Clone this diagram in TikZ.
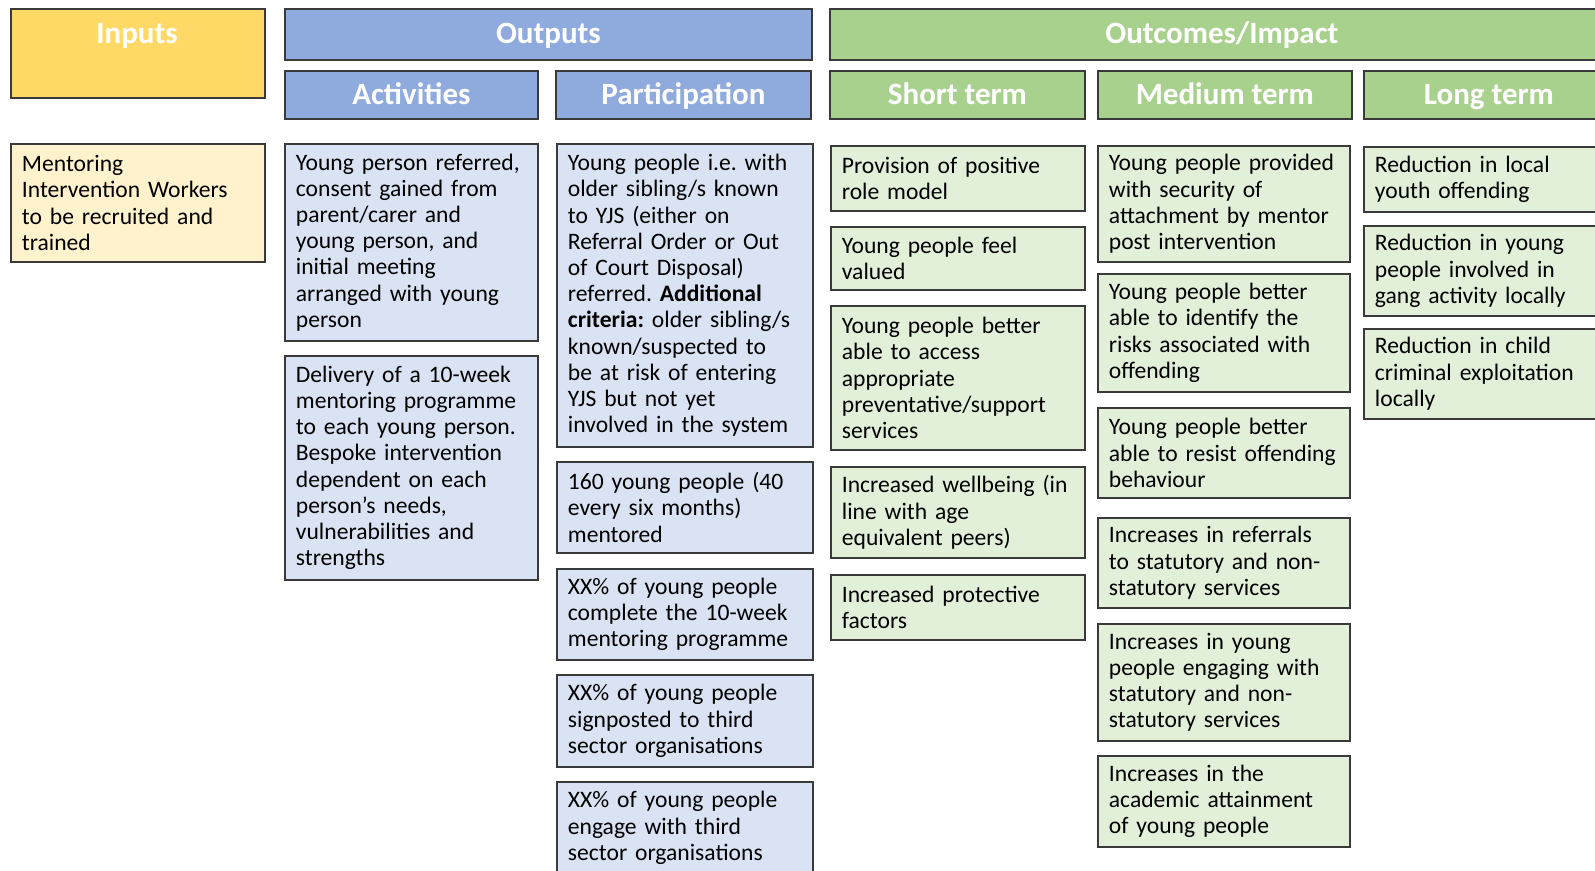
\documentclass[tikz,border=0pt]{standalone}
\usepackage{fontspec}
\setmainfont{Carlito}
\frenchspacing
\definecolor{edge}{HTML}{3A3A3A}
\definecolor{inHead}{HTML}{FFD966}
\definecolor{inBody}{HTML}{FFF2CC}
\definecolor{outHead}{HTML}{8FAADC}
\definecolor{outBody}{HTML}{DAE3F3}
\definecolor{ocHead}{HTML}{A9D18E}
\definecolor{ocBody}{HTML}{E2F0D9}
\tikzset{
  hbox/.style={draw=edge, line width=1.8pt, anchor=north west, inner sep=0pt},
  htext/.style={text=white, font=\fontsize{31}{34}\selectfont\bfseries,
    text height=25pt, text depth=6pt, inner sep=0pt},
  body/.style={draw=edge, line width=1.8pt, anchor=north west, inner xsep=11pt,
    inner ysep=1pt, align=left, font=\fontsize{23.6}{26.2}\selectfont},
  inB/.style={body, fill=inBody, text width=232pt},
  actB/.style={body, fill=outBody, text width=231pt},
  parB/.style={body, fill=outBody, text width=234pt},
  shB/.style={body, fill=ocBody, text width=232pt},
  meB/.style={body, fill=ocBody, text width=230pt},
  loB/.style={body, fill=ocBody, text width=228pt},
}
\begin{document}
\begin{tikzpicture}[x=1pt, y=-1pt]
\clip (0,0) rectangle (1595,870);
\fill[white] (0,0) rectangle (1595,870);

% column headers
\node[hbox, fill=inHead, minimum width=254pt, minimum height=89pt] (inputs) at (10,8) {};
\node[htext] (inputsT) at (137,34) {Inputs};
\node[hbox, fill=outHead, minimum width=527pt, minimum height=51pt] (outputs) at (284,8) {};
\node[htext] (outputsT) at (outputs.center) {Outputs};
\node[hbox, fill=ocHead, minimum width=784pt, minimum height=51pt] (outcomes) at (829,8) {};
\node[htext] (outcomesT) at (outcomes.center) {Outcomes/Impact};

\node[hbox, fill=outHead, minimum width=253pt, minimum height=48pt] (act) at (284,70) {};
\node[htext] (actT) at (act.center) {Activities};
\node[hbox, fill=outHead, minimum width=255pt, minimum height=48pt] (par) at (555,70) {};
\node[htext] (parT) at (par.center) {Participation};
\node[hbox, fill=ocHead, minimum width=255pt, minimum height=48pt] (sht) at (829,70) {};
\node[htext] (shtT) at (sht.center) {Short term};
\node[hbox, fill=ocHead, minimum width=254pt, minimum height=48pt] (med) at (1097,70) {};
\node[htext] (medT) at (med.center) {Medium term};
\node[hbox, fill=ocHead, minimum width=250pt, minimum height=48pt] (lng) at (1363,70) {};
\node[htext] (lngT) at (lng.center) {Long term};

% inputs
\node[inB, minimum height=118pt] (in1) at (10,143)
  {Mentoring\\Intervention Workers\\to be recruited and\\trained};

% activities
\node[actB, minimum height=197pt] (a1) at (284,143)
  {Young person referred,\\consent gained from\\parent/carer and\\young person, and\\initial meeting\\arranged with young\\person};
\node[actB, minimum height=224pt] (a2) at (284,355)
  {Delivery of a 10-week\\mentoring programme\\to each young person.\\Bespoke intervention\\dependent on each\\person’s needs,\\vulnerabilities and\\strengths};

% participation
\node[parB, minimum height=303pt] (p1) at (556,143)
  {Young people i.e. with\\older sibling/s known\\to YJS (either on\\Referral Order or Out\\of Court Disposal)\\referred. \textbf{Additional}\\\textbf{criteria:} older sibling/s\\known/suspected to\\be at risk of entering\\YJS but not yet\\involved in the system};
\node[parB, minimum height=91pt] (p2) at (556,461)
  {160 young people (40\\every six months)\\mentored};
\node[parB, minimum height=91pt] (p3) at (556,568)
  {XX\% of young people\\complete the 10-week\\mentoring programme};
\node[parB, minimum height=92pt] (p4) at (556,674)
  {XX\% of young people\\signposted to third\\sector organisations};
\node[parB, minimum height=92pt] (p5) at (556,781)
  {XX\% of young people\\engage with third\\sector organisations};

% short term
\node[shB, minimum height=65pt] (s1) at (830,145)
  {Provision of positive\\role model};
\node[shB, minimum height=63pt] (s2) at (830,226)
  {Young people feel\\valued};
\node[shB, minimum height=144pt] (s3) at (830,305)
  {Young people better\\able to access\\appropriate\\preventative/support\\services};
\node[shB, minimum height=91pt] (s4) at (830,466)
  {Increased wellbeing (in\\line with age\\equivalent peers)};
\node[shB, minimum height=65pt] (s5) at (830,574)
  {Increased protective\\factors};

% medium term
\node[meB, minimum height=116pt] (m1) at (1097,145)
  {Young people provided\\with security of\\attachment by mentor\\post intervention};
\node[meB, minimum height=118pt] (m2) at (1097,273)
  {Young people better\\able to identify the\\risks associated with\\offending};
\node[meB, minimum height=90pt] (m3) at (1097,407)
  {Young people better\\able to resist offending\\behaviour};
\node[meB, minimum height=90pt] (m4) at (1097,517)
  {Increases in referrals\\to statutory and non-\\statutory services};
\node[meB, minimum height=117pt] (m5) at (1097,623)
  {Increases in young\\people engaging with\\statutory and non-\\statutory services};
\node[meB, minimum height=91pt] (m6) at (1097,755)
  {Increases in the\\academic attainment\\of young people};

% long term
\node[loB, minimum height=65pt] (l1) at (1363,146)
  {Reduction in local\\youth offending};
\node[loB, minimum height=90pt] (l2) at (1363,225)
  {Reduction in young\\people involved in\\gang activity locally};
\node[loB, minimum height=90pt] (l3) at (1363,328)
  {Reduction in child\\criminal exploitation\\locally};
\end{tikzpicture}
\end{document}
